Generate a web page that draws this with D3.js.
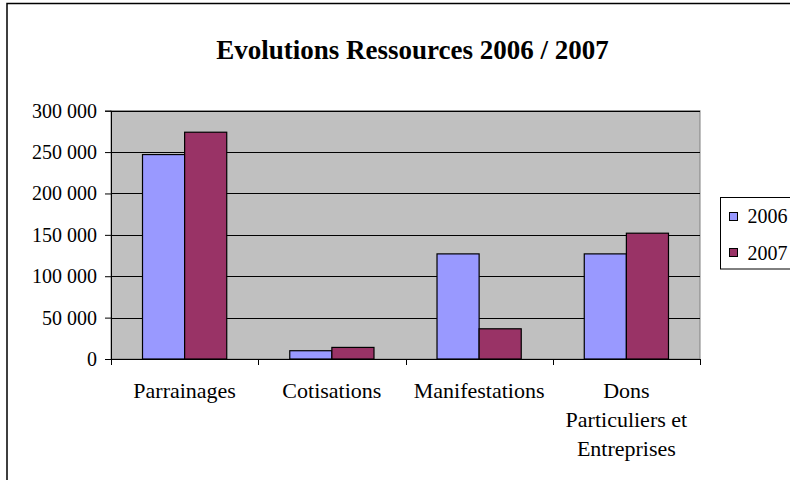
<!DOCTYPE html>
<html><head><meta charset="utf-8">
<script src="https://cdn.jsdelivr.net/npm/d3@7"></script>
<style>body{margin:0;background:#fff}svg{display:block}</style>
</head><body>
<svg id="c" width="790" height="480"></svg>
<script>
const categories = [["Parrainages"],["Cotisations"],["Manifestations"],["Dons","Particuliers et","Entreprises"]];
const series = ["2006","2007"];
const values2006 = [247000, 10000, 127000, 127000];
const values2007 = [274000, 14000, 36500, 152000];
const yTicks = [0,50000,100000,150000,200000,250000,300000];
const colors = ["#9999FF","#993366"];
const title = "Evolutions Ressources 2006 / 2007";
const FONT = "'Liberation Serif','Times New Roman',serif";

const svg = d3.select("#c").attr("font-family",FONT);
svg.append("rect").attr("x",7).attr("y",3.5).attr("width",800).attr("height",500)
  .attr("fill","#fff").attr("stroke","#000").attr("stroke-width",1.5);

const L=111,R=700,T=110.7,B=359;
const keys = categories.map(c=>c.join(" "));
const x = d3.scaleBand().domain(keys).range([L,R]).paddingInner(0.428).paddingOuter(0.214);
const y = d3.scaleLinear().domain([0,300000]).range([B,T]);
const x1 = d3.scaleBand().domain(series).range([0,x.bandwidth()]);

svg.append("rect").attr("x",L).attr("y",T).attr("width",R-L).attr("height",B-T)
  .attr("fill","#C0C0C0").attr("stroke","#808080").attr("stroke-width",1);

svg.append("g").selectAll("line").data(yTicks.slice(1)).join("line")
  .attr("x1",L).attr("x2",R).attr("y1",d=>Math.round(y(d))+0.5).attr("y2",d=>Math.round(y(d))+0.5)
  .attr("stroke","#000").attr("stroke-width",1);

const fmt = v => d3.format(",")(v).replace(/,/g," ");
const yAxis = svg.append("g").attr("transform",`translate(${L},0)`)
  .call(d3.axisLeft(y).tickValues(yTicks).tickFormat(fmt).tickSize(6).tickPadding(8));
yAxis.attr("font-family",FONT).attr("font-size",20);
yAxis.select(".domain").attr("stroke","#000");
yAxis.selectAll("text").attr("fill","#000");

const data = keys.map((k,i)=>({k, vals:[values2006[i],values2007[i]]}));
svg.append("g").selectAll("g").data(data).join("g")
  .attr("transform",d=>`translate(${x(d.k)},0)`)
  .selectAll("rect").data(d=>d.vals.map((v,j)=>({s:series[j],v,j}))).join("rect")
  .attr("x",d=>x1(d.s)).attr("width",x1.bandwidth())
  .attr("y",d=>y(d.v)).attr("height",d=>B-y(d.v))
  .attr("fill",d=>colors[d.j]).attr("stroke","#000").attr("stroke-width",1.2);

const xAxis = svg.append("g").attr("transform",`translate(0,${B})`)
  .call(d3.axisBottom(x).tickSize(0).tickFormat(""));
xAxis.select(".domain").attr("stroke","#000");
const bounds = d3.range(5).map(i=>L + i*(R-L)/4);
svg.append("g").selectAll("line").data(bounds).join("line")
  .attr("x1",d=>Math.round(d)+0.5).attr("x2",d=>Math.round(d)+0.5).attr("y1",B).attr("y2",B+6).attr("stroke","#000");

svg.append("g").selectAll("text").data(categories).join("text")
  .attr("x",(d,i)=>x(keys[i])+x.bandwidth()/2).attr("y",398)
  .attr("text-anchor","middle").attr("font-size",22).attr("font-family",FONT)
  .selectAll("tspan").data(d=>d).join("tspan")
  .attr("x",function(){return this.parentNode.getAttribute("x");})
  .attr("dy",(d,i)=>i?29:0).text(d=>d);

svg.append("text").attr("x",412.5).attr("y",59).attr("text-anchor","middle")
  .attr("font-size",27).attr("font-weight","bold").attr("font-family",FONT).text(title);

const lg = svg.append("g");
lg.append("rect").attr("x",720.5).attr("y",197.5).attr("width",100).attr("height",71.5)
  .attr("fill","#fff").attr("stroke","#000");
series.forEach((s,i)=>{
  lg.append("rect").attr("x",729.5).attr("y",212.5+i*36).attr("width",8).attr("height",8)
    .attr("fill",colors[i]).attr("stroke","#000");
  lg.append("text").attr("x",747.5).attr("y",223+i*36.5).attr("font-size",20).attr("font-family",FONT).text(s);
});
</script>
</body></html>
